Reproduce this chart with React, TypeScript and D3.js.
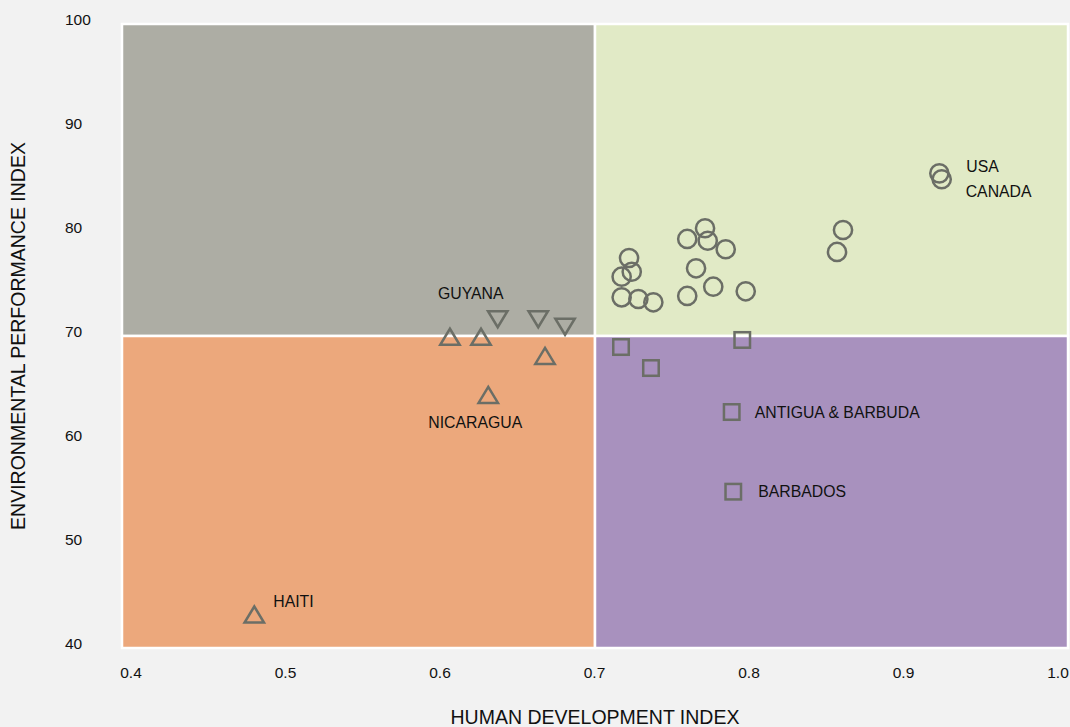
import React from 'react';
import * as d3 from 'd3';

// ---- data (HDI on x, EPI on y) ----
const circleHDI = [0.7216, 0.7233, 0.7169, 0.7169, 0.7275, 0.737, 0.7585, 0.7698, 0.7715, 0.7829, 0.7641, 0.7585, 0.775, 0.7956, 0.8573, 0.8535, 0.9184, 0.9199];
const circleEPI = [77.5, 76.18, 75.7, 73.72, 73.56, 73.24, 79.33, 80.36, 79.16, 78.34, 76.51, 73.85, 74.74, 74.3, 80.19, 78.08, 85.64, 85.07];
const circleNames = ['', '', '', '', '', '', '', '', '', '', '', '', '', '', '', '', 'USA', 'CANADA'];

const squareHDI = [0.7165, 0.7355, 0.7934, 0.7867, 0.7877];
const squareEPI = [68.94, 66.92, 69.62, 62.69, 55.03];
const squareNames = ['', '', '', 'ANTIGUA & BARBUDA', 'BARBADOS'];

const upHDI = [0.608, 0.6277, 0.6683, 0.6323, 0.4839];
const upEPI = [69.93, 69.93, 68.08, 64.33, 43.22];
const upNames = ['', '', '', 'NICARAGUA', 'HAITI'];

const downHDI = [0.6383, 0.664, 0.681];
const downEPI = [71.61, 71.61, 70.89];
const downNames = ['GUYANA', '', ''];

const xTicks = [0.4, 0.5, 0.6, 0.7, 0.8, 0.9, 1.0];
const yTicks = [40, 50, 60, 70, 80, 90, 100];
const xDomain = [0.4, 1.0];
const yDomain = [40, 100];
const hdiSplit = 0.7;
const epiSplit = 70;

// ---- styling ----
const W = 1070, H = 727;
const FONT = '"Liberation Sans", Arial, Helvetica, sans-serif';
const MARK = '#6b6e66';
const BG = '#f2f2f2';
const TXT = '#111111';
const COLORS = { tl: '#adada4', tr: '#e1eac6', bl: '#eca87c', br: '#a891be' };
const labelOffsets: Record<string, [number, number, string]> = {
  'USA': [27, -6.6, 'start'],
  'CANADA': [24, 12, 'start'],
  'HAITI': [19, -13, 'start'],
  'ANTIGUA & BARBUDA': [23, 0, 'start'],
  'BARBADOS': [25, 0, 'start'],
  'NICARAGUA': [-13, 28, 'middle'],
  'GUYANA': [-27, -26, 'middle'],
};

export default function App() {
  const x = d3.scaleLinear().domain(xDomain).range([122, 1068]);
  const y = d3.scaleLinear().domain(yDomain).range([648, 24]);
  const xl = d3.scaleLinear().domain(xDomain).range([131, 1058]);

  const tri = (cx: number, cy: number, up: boolean) => {
    const p = d3.path();
    const hw = 9.7, hh = 8;
    if (up) {
      p.moveTo(cx, cy - hh); p.lineTo(cx + hw, cy + hh); p.lineTo(cx - hw, cy + hh); p.closePath();
    } else {
      p.moveTo(cx, cy + hh); p.lineTo(cx + hw, cy - hh); p.lineTo(cx - hw, cy - hh); p.closePath();
    }
    return p.toString();
  };

  const labelsOut: JSX.Element[] = [];
  const addLabel = (name: string, px: number, py: number, key: string) => {
    if (!name) return;
    const [dx, dy, anchor] = labelOffsets[name];
    labelsOut.push(
      <text key={key} x={px + dx} y={py + dy} dy="0.35em" textAnchor={anchor as any}
        fontFamily={FONT} fontSize={15.8} fill={TXT}>{name}</text>
    );
  };

  const x0 = x(xDomain[0]), x1 = x(xDomain[1]), xm = x(hdiSplit);
  const y0 = y(yDomain[1]), y1 = y(yDomain[0]), ym = y(epiSplit);

  return (
    <svg width={W} height={H} style={{ position: 'absolute', left: 0, top: 0, background: BG }}>
      <rect x={0} y={0} width={W} height={H} fill={BG} />
      <g stroke="#ffffff" strokeWidth={2.5}>
        <rect x={x0} y={y0} width={xm - x0} height={ym - y0} fill={COLORS.tl} />
        <rect x={xm} y={y0} width={x1 - xm} height={ym - y0} fill={COLORS.tr} />
        <rect x={x0} y={ym} width={xm - x0} height={y1 - ym} fill={COLORS.bl} />
        <rect x={xm} y={ym} width={x1 - xm} height={y1 - ym} fill={COLORS.br} />
      </g>
      {xTicks.map(t => (
        <text key={'xt' + t} x={xl(t)} y={673} dy="0.35em" textAnchor="middle"
          fontFamily={FONT} fontSize={15.5} fill={TXT}>{t.toFixed(1)}</text>
      ))}
      {yTicks.map(t => (
        <text key={'yt' + t} x={65} y={y(t) - 4} dy="0.35em" textAnchor="start"
          fontFamily={FONT} fontSize={15.5} fill={TXT}>{t}</text>
      ))}
      <text x={x(0.7)} y={717} dy="0.35em" textAnchor="middle" fontFamily={FONT} fontSize={19.5}
        fill={TXT}>HUMAN DEVELOPMENT INDEX</text>
      <text transform={`translate(18,${(y0 + y1) / 2}) rotate(-90)`} dy="0.35em" textAnchor="middle"
        fontFamily={FONT} fontSize={19.5} fill={TXT}>ENVIRONMENTAL PERFORMANCE INDEX</text>
      <g fill="none" stroke={MARK} strokeWidth={2.5}>
        {circleHDI.map((v, i) => (
          <circle key={'c' + i} cx={x(v)} cy={y(circleEPI[i])} r={9.1} />
        ))}
        {squareHDI.map((v, i) => (
          <rect key={'s' + i} x={x(v) - 7.75} y={y(squareEPI[i]) - 7.75} width={15.5} height={15.5} />
        ))}
        {upHDI.map((v, i) => (
          <path key={'u' + i} d={tri(x(v), y(upEPI[i]), true)} />
        ))}
        {downHDI.map((v, i) => (
          <path key={'d' + i} d={tri(x(v), y(downEPI[i]), false)} />
        ))}
      </g>
      {circleHDI.map((v, i) => { addLabel(circleNames[i], x(v), y(circleEPI[i]), 'lc' + i); return null; })}
      {squareHDI.map((v, i) => { addLabel(squareNames[i], x(v), y(squareEPI[i]), 'ls' + i); return null; })}
      {upHDI.map((v, i) => { addLabel(upNames[i], x(v), y(upEPI[i]), 'lu' + i); return null; })}
      {downHDI.map((v, i) => { addLabel(downNames[i], x(v), y(downEPI[i]), 'ld' + i); return null; })}
      <g>{labelsOut}</g>
    </svg>
  );
}
